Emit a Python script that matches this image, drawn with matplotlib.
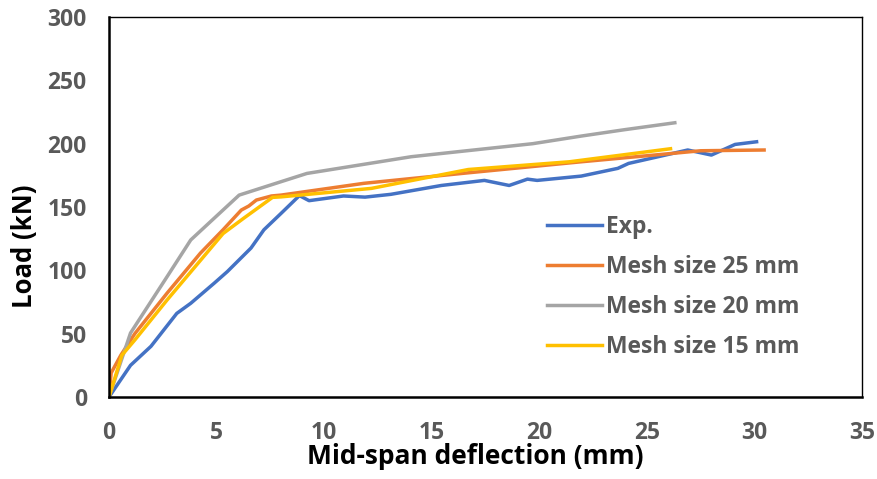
import numpy as np
import matplotlib
matplotlib.use("Agg")
import matplotlib.pyplot as plt

plt.rcParams["font.family"] = ["Open Sans", "DejaVu Sans"]
plt.rcParams["font.weight"] = "bold"

# Exp.
exp_x = [0, 1.0, 1.95, 3.15, 3.8, 4.9, 5.5, 6.6, 7.2, 8.0, 8.85, 9.3, 10.9, 11.9, 13.1,
         15.45, 17.45, 18.6, 19.45, 19.9, 21.95, 23.65, 24.15, 26.9, 28.0, 29.1, 30.1]
exp_y = [0, 25, 40, 66, 74, 90, 99, 117.6, 132, 145, 159, 155, 158.7, 157.8, 160,
         167, 171, 167, 172, 171, 174.4, 180.5, 184.4, 195, 191, 199.4, 201.5]

# Mesh size 25 mm
m25_x = [0, 0.1, 0.55, 1.2, 2.7, 4.25, 5.3, 6.15, 6.5, 6.85, 7.55, 8.0, 11.85, 16.7,
         21.95, 24.45, 27.5, 30.45]
m25_y = [0, 19, 33, 50, 82, 113.6, 132, 147.6, 150.8, 155.5, 158.7, 159.4, 168.7, 177,
         185.7, 189.6, 194.4, 195]

# Mesh size 20 mm
m20_x = [0, 1.0, 2.7, 3.8, 6.05, 8.0, 9.2, 14.05, 19.7, 21.95, 23.95, 26.3]
m20_y = [0, 50.5, 95, 124, 159.4, 170, 176.5, 189.7, 200, 206, 211, 216.5]

# Mesh size 15 mm
m15_x = [0, 0.6, 1.2, 2.7, 5.3, 6.25, 7.6, 8.0, 12.2, 16.7, 21.4, 26.1]
m15_y = [0, 33, 45, 76.6, 129, 141, 157.6, 158, 164.7, 179.6, 185.7, 196]

fig = plt.figure(figsize=(8.77, 4.79), dpi=100)
ax = fig.add_axes([109 / 877, 82 / 479, (862 - 109) / 877, (397 - 17) / 479])

ax.plot(exp_x, exp_y, color="#4472C4", lw=2.5, label="Exp.")
ax.plot(m25_x, m25_y, color="#ED7D31", lw=2.5, label="Mesh size 25 mm")
ax.plot(m20_x, m20_y, color="#A5A5A5", lw=2.5, label="Mesh size 20 mm")
ax.plot(m15_x, m15_y, color="#FFC000", lw=2.5, label="Mesh size 15 mm")

ax.set_xlim(0, 35)
ax.set_ylim(0, 300)
ax.set_xticks(np.arange(0, 36, 5))
ax.set_yticks(np.arange(0, 301, 50))
ax.tick_params(length=0, labelsize=16.5, labelcolor="#595959")
ax.tick_params(axis="x", pad=17)
ax.tick_params(axis="y", pad=16)
for lab in ax.get_xticklabels() + ax.get_yticklabels():
    lab.set_fontweight("bold")

for s in ["left", "bottom"]:
    ax.spines[s].set_linewidth(1.8)
for s in ["top", "right"]:
    ax.spines[s].set_linewidth(1.0)
for s in ax.spines.values():
    s.set_color("black")

ax.set_xlabel("Mid-span deflection (mm)", fontsize=19, fontweight="bold")
ax.set_ylabel("Load (kN)", fontsize=18.5, fontweight="bold")
ax.xaxis.set_label_coords(0.487, -0.122)
ax.yaxis.set_label_coords(-0.094, 0.397)

leg = ax.legend(loc="upper left", bbox_to_anchor=(0.566, 0.51), frameon=False,
                prop={"size": 16.5, "weight": "bold"}, handlelength=2.4,
                labelspacing=0.71, handletextpad=0.17, borderpad=0)
for t in leg.get_texts():
    t.set_color("#595959")

fig.savefig("out.png", dpi=100)
